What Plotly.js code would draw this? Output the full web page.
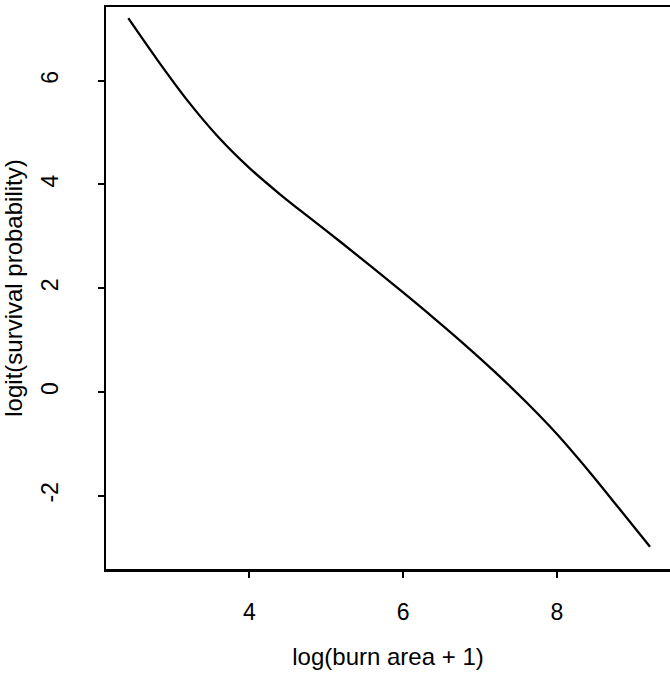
<!DOCTYPE html>
<html>
<head>
<meta charset="utf-8">
<script src="https://cdn.plot.ly/plotly-3.0.1.min.js"></script>
<style>html,body{margin:0;padding:0;background:#fff;}#chart{width:670px;height:679px;}</style>
</head>
<body>
<div id="chart"></div>
<script>
// log(burn area + 1)
var burnLog = [2.427, 2.8, 3.2, 3.6, 4.0, 4.4, 4.8, 5.2, 5.6, 6.0, 6.4, 6.8, 7.2, 7.6, 8.0, 8.4, 8.8, 9.211];
// logit(survival probability)
var logitSurv = [7.204, 6.411, 5.611, 4.911, 4.321, 3.811, 3.341, 2.877, 2.403, 1.919, 1.425, 0.915, 0.379, -0.193, -0.809, -1.497, -2.225, -2.981];
var xTicks = [4, 6, 8];
var yTicks = [-2, 0, 2, 4, 6];

var fontFam = '"Liberation Sans", Arial, Helvetica, sans-serif';

var trace = {
  x: burnLog,
  y: logitSurv,
  type: 'scatter',
  mode: 'lines',
  line: {color: '#000', width: 2.3, shape: 'spline', smoothing: 1},
  hoverinfo: 'skip'
};

var layout = {
  width: 670,
  height: 679,
  margin: {l: 106, r: 0, t: 7, b: 110},
  paper_bgcolor: '#fff',
  plot_bgcolor: '#fff',
  showlegend: false,
  font: {family: fontFam, color: '#000', size: 23},
  xaxis: {
    range: [2.137, 9.471],
    tickvals: xTicks,
    ticktext: xTicks.map(String),
    ticks: 'outside',
    ticklen: 6,
    tickwidth: 2,
    tickcolor: '#000',
    showline: true,
    linecolor: '#000',
    linewidth: 2.5,
    mirror: true,
    showgrid: false,
    zeroline: false,
    ticklabelstandoff: 15,
    tickfont: {family: fontFam, size: 23, color: '#000'},
    title: {text: 'log(burn area + 1)', font: {family: fontFam, size: 24, color: '#000'}, standoff: 24}
  },
  yaxis: {
    range: [-3.41, 7.42],
    tickvals: yTicks,
    ticktext: yTicks.map(String),
    tickangle: -90,
    ticks: 'outside',
    ticklen: 6,
    tickwidth: 2,
    tickcolor: '#000',
    showline: true,
    linecolor: '#000',
    linewidth: 2.5,
    mirror: false,
    showgrid: false,
    zeroline: false,
    ticklabelstandoff: 30,
    tickfont: {family: fontFam, size: 23, color: '#000'},
    title: {text: 'logit(survival probability)', font: {family: fontFam, size: 24, color: '#000'}, standoff: 12}
  }
};

Plotly.newPlot('chart', [trace], layout, {staticPlot: true, displayModeBar: false});
</script>
</body>
</html>
